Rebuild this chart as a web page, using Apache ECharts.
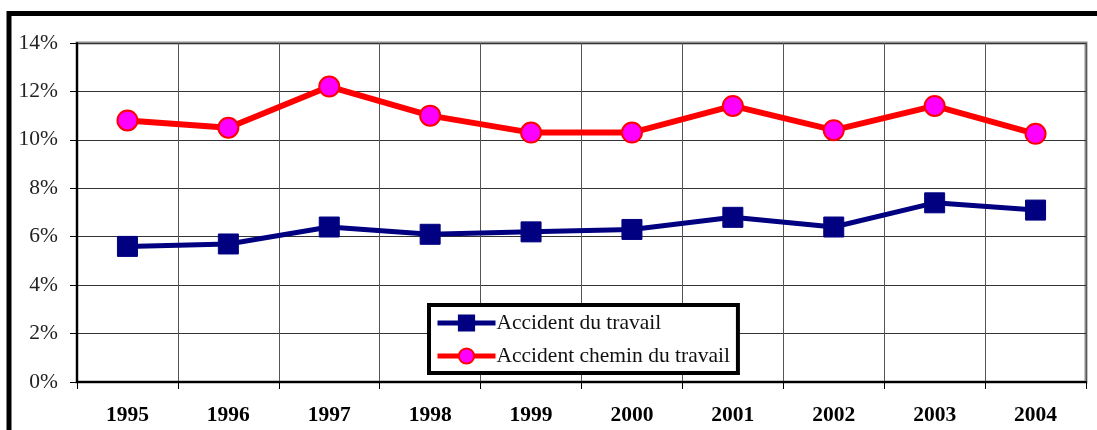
<!DOCTYPE html>
<html lang="fr">
<head>
    <meta charset="UTF-8">
    <title>Accidents</title>
    <script src="https://cdn.jsdelivr.net/npm/echarts@6/dist/echarts.min.js"></script>
    <style>
        html, body { margin: 0; padding: 0; background: #fff; }
    </style>
</head>
<body>
    <div id="main" style="width: 1097px;height: 430px;"></div>
    <script type="text/javascript">
        // données
        var annees = ['1995', '1996', '1997', '1998', '1999', '2000', '2001', '2002', '2003', '2004'];
        var travail = [5.6, 5.7, 6.4, 6.1, 6.2, 6.3, 6.8, 6.4, 7.4, 7.1];
        var chemin = [10.8, 10.5, 12.2, 11.0, 10.3, 10.3, 11.4, 10.4, 11.4, 10.25];

        var myChart = echarts.init(document.getElementById('main'));
        var serif = '"Liberation Serif", "DejaVu Serif", serif';
        var option = {
            animation: false,
            // cadre noir autour du graphique
            graphic: [{
                type: 'rect',
                shape: { x: 9, y: 13.5, width: 1200, height: 600 },
                style: { fill: 'none', stroke: '#000', lineWidth: 5 },
                z: 100
            }],
            grid: {
                left: 77, top: 43, right: 11, bottom: 48,
                show: true,
                borderColor: '#8c8c8c',
                borderWidth: 3
            },
            legend: {
                orient: 'vertical',
                left: 429,
                top: 305,
                padding: [7, 8, 6, 6],
                itemGap: 11,
                itemWidth: 58,
                itemHeight: 19,
                backgroundColor: '#fff',
                borderColor: '#000',
                borderWidth: 4,
                textStyle: { fontFamily: serif, fontSize: 21.5, color: '#111', padding: [0, 0, 0, -4] },
                data: [
                    { name: 'Accident du travail', lineStyle: { width: 5 } },
                    { name: 'Accident chemin du travail', lineStyle: { width: 5 } }
                ]
            },
            xAxis: {
                type: 'category',
                data: annees,
                boundaryGap: true,
                axisLine: { lineStyle: { color: '#000', width: 2 } },
                axisTick: { show: true, length: 7, lineStyle: { color: '#000', width: 1 } },
                axisLabel: { fontFamily: serif, fontSize: 21.5, fontWeight: 'bold', color: '#000', margin: 22 },
                splitLine: { show: true, lineStyle: { color: '#555', width: 1 } }
            },
            yAxis: {
                type: 'value',
                min: 0,
                max: 14,
                interval: 2,
                axisLine: { show: true, lineStyle: { color: '#000', width: 2 } },
                axisTick: { show: true, length: 7, lineStyle: { color: '#000', width: 1 } },
                axisLabel: { fontFamily: serif, fontSize: 21.5, color: '#222', margin: 19, formatter: '{value}%' },
                splitLine: { show: true, lineStyle: { color: '#333', width: 1 } }
            },
            series: [{
                name: 'Accident du travail',
                type: 'line',
                data: travail,
                symbol: 'rect',
                symbolSize: 20,
                lineStyle: { color: '#000080', width: 5 },
                itemStyle: { color: '#000080', borderColor: '#000080', borderWidth: 1 },
                z: 3
            }, {
                name: 'Accident chemin du travail',
                type: 'line',
                data: chemin,
                symbol: 'circle',
                symbolSize: 20,
                lineStyle: { color: '#ff0000', width: 6 },
                itemStyle: { color: '#ff00ff', borderColor: '#ff0000', borderWidth: 2 },
                z: 3
            }]
        };
        myChart.setOption(option);
    </script>
</body>
</html>
